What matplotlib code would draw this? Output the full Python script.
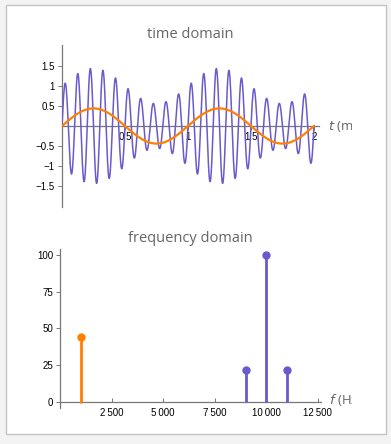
import numpy as np
import matplotlib
matplotlib.use("Agg")
import matplotlib.pyplot as plt
from matplotlib.patches import Rectangle
from matplotlib.transforms import Bbox, TransformedBbox

# ---------------- data ----------------
# spectrum (percent amplitude)
mod_freq = [1000]
mod_amp = [44]
carrier_freqs = [9000, 10000, 11000]
carrier_amps = [22, 100, 22]
# phase form of each component: 'sin' or +/-cos
carrier_kinds = ["cos", "sin", "-cos"]
mod_kinds = ["sin"]

time_ticks = [0.5, 1, 1.5, 2]
time_tick_labels = ["0.5", "1", "1.5", "2"]
amp_ticks = [-1.5, -1, -0.5, 0.5, 1, 1.5]
amp_tick_labels = ["\u22121.5", "\u22121", "\u22120.5", "0.5", "1", "1.5"]
freq_ticks = [2500, 5000, 7500, 10000, 12500]
freq_tick_labels = ["2\u2009500", "5\u2009000", "7\u2009500", "10\u2009000", "12\u2009500"]
pct_ticks = [0, 25, 50, 75, 100]
pct_tick_labels = ["0", "25", "50", "75", "100"]

BLUE = "#6a5acd"
ORANGE = "#ff7f00"
AXC = "#777777"

t_ms = np.linspace(0, 2.0, 3000)
t_s = t_ms / 1000.0


def synth(freqs, amps, kinds):
    y = np.zeros_like(t_s)
    for f, a, k in zip(freqs, amps, kinds):
        ph = 2 * np.pi * f * t_s
        if k == "sin":
            y += a / 100 * np.sin(ph)
        elif k == "cos":
            y += a / 100 * np.cos(ph)
        else:
            y -= a / 100 * np.cos(ph)
    return y


blue_sig = synth(carrier_freqs, carrier_amps, carrier_kinds)
orange_sig = synth(mod_freq, mod_amp, mod_kinds)

W, H = 391, 444
fig = plt.figure(figsize=(W / 100, H / 100), dpi=100)
fig.patch.set_facecolor("#f3f3f3")
fig.patches.append(Rectangle((5.5 / W, 1 - 434 / H), (386 - 5.5) / W, (434 - 5.5) / H,
                             transform=fig.transFigure, facecolor="white",
                             edgecolor="#c4c4c4", lw=1.0, zorder=-10))

tickfont = dict(family="Liberation Sans", size=7)
titlefont = dict(family="Open Sans", size=10.5, color="#666666")


def style(ax, xdir, ydir):
    for s in ["top", "right"]:
        ax.spines[s].set_visible(False)
    ax.spines["left"].set_position(("data", 0))
    ax.spines["bottom"].set_position(("data", 0))
    for s in ["left", "bottom"]:
        ax.spines[s].set_color(AXC)
        ax.spines[s].set_linewidth(0.9)
    ax.patch.set_alpha(0)
    ax.tick_params(axis="x", direction=xdir, length=3, width=0.7, color=AXC, pad=1)
    ax.tick_params(axis="y", direction=ydir, length=3, width=0.7, color=AXC, pad=2)


# ---------------- top: time domain ----------------
ax1 = fig.add_axes([62 / W, 1 - 207 / H, 257 / W, 162 / H])
ax1.plot(t_ms, blue_sig, color=BLUE, lw=1.1, zorder=3)
ax1.plot(t_ms, orange_sig, color=ORANGE, lw=1.6, zorder=4)
ax1.set_xlim(0, 2.04)
ax1.set_ylim(-2.025, 2.025)
style(ax1, "out", "out")
ax1.set_xticks(time_ticks)
ax1.set_xticklabels(time_tick_labels, **tickfont)
ax1.set_yticks(amp_ticks)
ax1.set_yticklabels(amp_tick_labels, **tickfont)
for lab in ax1.get_xticklabels():
    lab.set_zorder(5)

fig.text(190 / W, 1 - 35 / H, "time domain", ha="center", va="center", **titlefont)
clip1 = TransformedBbox(Bbox([[0, 0], [352 / W, 1]]), fig.transFigure)
tl = fig.text(328 / W, 1 - 126 / H, "$t$ (ms)", ha="left", va="center",
              family="Open Sans", size=9.5, color="#666666")
tl.set_clip_box(clip1)
tl.set_clip_on(True)

# ---------------- bottom: frequency domain ----------------
ax2 = fig.add_axes([60 / W, 1 - 408 / H, 261 / W, 159 / H])
ax2.vlines(mod_freq, -1, mod_amp, color=ORANGE, lw=2.0, zorder=3)
ax2.plot(mod_freq, mod_amp, "o", color=ORANGE, ms=5, zorder=4)
ax2.vlines(carrier_freqs, 0, carrier_amps, color=BLUE, lw=2.0, zorder=3)
ax2.plot(carrier_freqs, carrier_amps, "o", color=BLUE, ms=5, zorder=4)
ax2.set_xlim(0, 12650)
ax2.set_ylim(-4.1, 104)
style(ax2, "in", "out")
ax2.set_xticks(freq_ticks)
ax2.set_xticklabels(freq_tick_labels, **tickfont)
ax2.set_yticks(pct_ticks)
ax2.set_yticklabels(pct_tick_labels, **tickfont)
ax2.tick_params(axis="x", pad=4)

fig.text(190 / W, 1 - 238 / H, "frequency domain", ha="center", va="center", **titlefont)
fl = fig.text(329 / W, 1 - 400 / H, "$f$ (Hz)", ha="left", va="center",
              family="Open Sans", size=9.5, color="#666666")
fl.set_clip_box(clip1)
fl.set_clip_on(True)

fig.savefig("out.png", dpi=100, facecolor=fig.get_facecolor())
